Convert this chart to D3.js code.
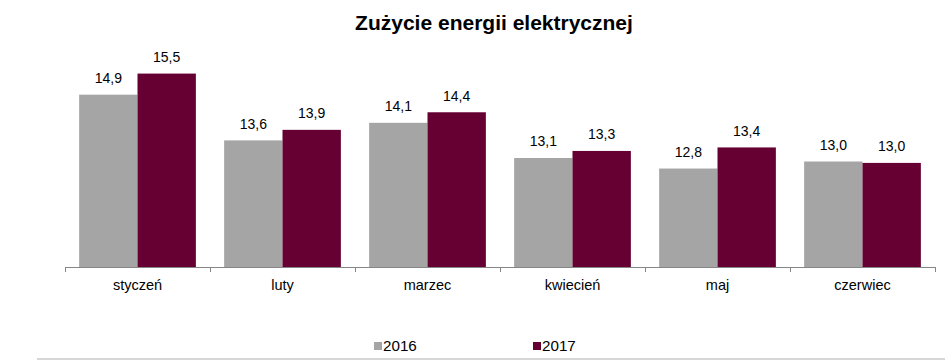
<!DOCTYPE html>
<html>
<head>
<meta charset="utf-8">
<script src="https://cdn.jsdelivr.net/npm/d3@7"></script>
<style>
  html, body { margin: 0; padding: 0; background: #fff; }
  svg { display: block; font-family: "Liberation Sans", Arial, sans-serif; }
</style>
</head>
<body>
<svg id="chart" width="945" height="360"></svg>
<script>
const categories = ["styczeń", "luty", "marzec", "kwiecień", "maj", "czerwiec"];
const seriesNames = ["2016", "2017"];
const values2016 = [14.9, 13.6, 14.1, 13.1, 12.8, 13.0];
const values2017 = [15.5, 13.9, 14.4, 13.3, 13.4, 12.96];
const seriesColors = ["#a5a5a5", "#660033"];
const titleText = "Zużycie energii elektrycznej";

const svg = d3.select("#chart");
const W = 945, H = 360;
const left = 65, right = 935, baseY = 267;

const x0 = d3.scaleBand().domain(categories).range([left, right]).paddingInner(0.195).paddingOuter(0.0975);
const x1 = d3.scaleBand().domain(seriesNames).range([0, x0.bandwidth()]).padding(0);
const y = d3.scaleLinear().domain([10, 16]).range([baseY, 56]);

const data = categories.map((c, i) => ({ cat: c, vals: [values2016[i], values2017[i]] }));
const fmt = v => d3.format(".1f")(v).replace(".", ",");

// title
svg.append("text").attr("x", 494).attr("y", 30).attr("text-anchor", "middle")
  .attr("font-size", 21).attr("font-weight", "bold").attr("fill", "#000").text(titleText);

// bars
const g = svg.append("g");
const groups = g.selectAll("g.cat").data(data).join("g").attr("class", "cat")
  .attr("transform", d => `translate(${x0(d.cat)},0)`);
groups.selectAll("rect").data(d => d.vals.map((v, j) => ({ v, s: seriesNames[j], j })))
  .join("rect")
  .attr("x", d => x1(d.s)).attr("width", x1.bandwidth())
  .attr("y", d => y(d.v)).attr("height", d => baseY - y(d.v))
  .attr("fill", d => seriesColors[d.j]);
groups.selectAll("text").data(d => d.vals.map((v, j) => ({ v, s: seriesNames[j], j })))
  .join("text")
  .attr("x", d => x1(d.s) + x1.bandwidth() / 2)
  .attr("y", d => y(d.v) - 11.5)
  .attr("text-anchor", "middle").attr("font-size", 14).attr("fill", "#000")
  .text(d => fmt(d.v));

// x axis with boundary ticks
const axisG = svg.append("g").attr("stroke", "#868686").attr("stroke-width", 1).attr("fill", "none");
axisG.append("line").attr("x1", left).attr("x2", right).attr("y1", baseY + 0.5).attr("y2", baseY + 0.5);
const step = x0.step();
const boundaries = d3.range(categories.length + 1).map(i => left + i * step);
axisG.selectAll("line.tick").data(boundaries).join("line").attr("class", "tick")
  .attr("x1", d => Math.round(d) + 0.5).attr("x2", d => Math.round(d) + 0.5)
  .attr("y1", baseY).attr("y2", baseY + 5);

svg.append("g").selectAll("text").data(categories).join("text")
  .attr("x", d => x0(d) + x0.bandwidth() / 2).attr("y", 289.5)
  .attr("text-anchor", "middle").attr("font-size", 14.5).attr("fill", "#000").text(d => d);

// legend
const legendX = [374, 533];
const lg = svg.append("g").selectAll("g").data(seriesNames).join("g")
  .attr("transform", (d, i) => `translate(${legendX[i]},0)`);
lg.append("rect").attr("x", 0).attr("y", 342).attr("width", 8).attr("height", 8)
  .attr("fill", (d, i) => seriesColors[i]);
lg.append("text").attr("x", 9).attr("y", 350.5).attr("font-size", 15.2).attr("fill", "#000").text(d => d);

// bottom gray line
svg.append("line").attr("x1", 37).attr("x2", W).attr("y1", 359).attr("y2", 359)
  .attr("stroke", "#c8c8c8").attr("stroke-width", 1.5);
</script>
</body>
</html>
